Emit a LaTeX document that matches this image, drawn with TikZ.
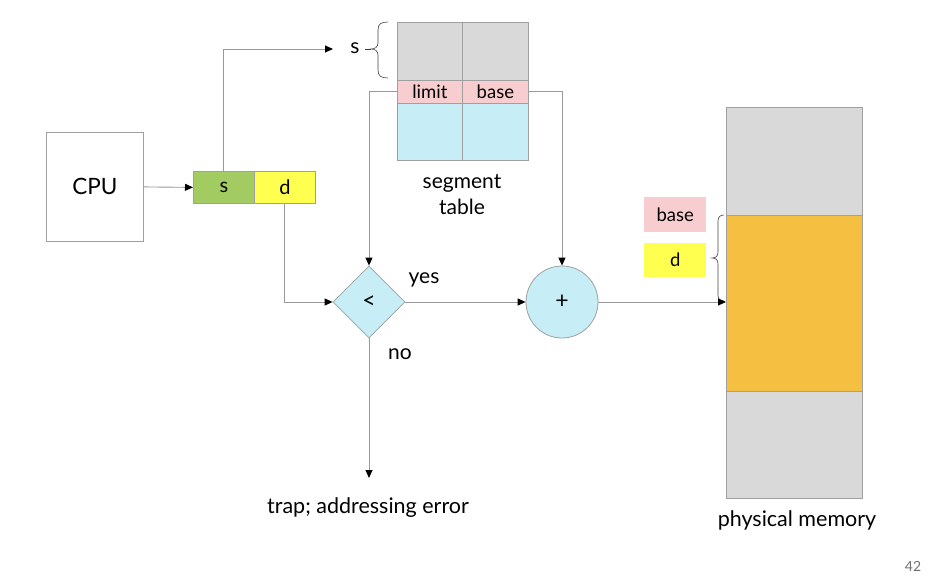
\documentclass[tikz,border=0pt]{standalone}
\usepackage{fontspec}
\setmainfont{Lato}
\usetikzlibrary{shapes.geometric,arrows.meta}
\definecolor{cgray}{HTML}{D9D9D9}
\definecolor{cpink}{HTML}{F8CDCF}
\definecolor{ccyan}{HTML}{C7EEF6}
\definecolor{cgreen}{HTML}{A2CC62}
\definecolor{cyel}{HTML}{FFFF4F}
\definecolor{corange}{HTML}{F5BF42}
\definecolor{cline}{HTML}{9A9A9A}
\definecolor{cedge}{HTML}{A0A0A0}
\begin{document}
\begin{tikzpicture}[x=1pt,y=-1pt,
  cell/.style={draw=cedge,line width=0.8pt,inner sep=0pt,anchor=north west},
  conn/.style={draw=cline,line width=0.9pt},
  arr/.style={conn,-{Triangle[length=8pt,width=7pt,color=black]}},
  lbl/.style={inner sep=0pt,font=\fontsize{21}{24}\selectfont},
  brc/.style={draw=black!75,line width=0.6pt}]
\useasboundingbox (0,0) rectangle (936,578);
% CPU
\node[cell,fill=white,minimum width=97pt,minimum height=109pt,font=\fontsize{22.5}{26}\selectfont] (cpu) at (46,132) {CPU};
% logical address
\node[cell,fill=cgreen,minimum width=61pt,minimum height=32pt,font=\fontsize{20}{22}\selectfont] (s) at (193,171) {s};
\node[cell,fill=cyel,minimum width=61pt,minimum height=32pt,font=\fontsize{20}{22}\selectfont] (d) at (254,171) {d};
% segment table
\node[cell,fill=cgray,minimum width=65pt,minimum height=58pt] (g1) at (397,22) {};
\node[cell,fill=cgray,minimum width=66pt,minimum height=58pt] (g2) at (462,22) {};
\node[cell,fill=cpink,minimum width=65pt,minimum height=23pt,font=\fontsize{18.5}{20}\selectfont] (limit) at (397,80) {limit};
\node[cell,fill=cpink,minimum width=66pt,minimum height=23pt,font=\fontsize{18.5}{20}\selectfont] (base) at (462,80) {base};
\node[cell,fill=ccyan,minimum width=65pt,minimum height=57pt] (c1) at (397,103) {};
\node[cell,fill=ccyan,minimum width=66pt,minimum height=57pt] (c2) at (462,103) {};
\node[lbl,align=center,font=\fontsize{21}{26}\selectfont] (segt) at (462,195) {segment\\table};
% s label and brace
\node[lbl] (slbl) at (355,48) {s};
\coordinate (sin) at (333,49);
\draw[brc] (388,22) .. controls (381,22) and (378,24) .. (378,30) -- (378,43)
  .. controls (378,47) and (375,49) .. (371,49)
  .. controls (375,49) and (378,51) .. (378,55) -- (378,70)
  .. controls (378,76) and (381,78) .. (388,78);
\draw[brc] (365,49) -- (371,49);
% comparator and adder
\node[diamond,draw=cedge,fill=ccyan,line width=0.8pt,minimum width=72pt,minimum height=72pt,inner sep=0pt,font=\fontsize{23}{26}\selectfont] (cmp) at (369,302) {<};
\node[circle,draw=cedge,fill=ccyan,line width=0.8pt,minimum size=72pt,inner sep=0pt,font=\fontsize{23}{26}\selectfont] (add) at (562,302) {+};
\node[lbl] (yes) at (424,280) {yes};
\node[lbl] (no) at (400,354) {no};
\coordinate (trapend) at (369,478);
\node[lbl,font=\fontsize{21.5}{24}\selectfont] (trap) at (368,508) {trap; addressing error};
% physical memory
\node[cell,fill=cgray,minimum width=136pt,minimum height=108pt] (m1) at (726,107) {};
\node[cell,fill=corange,minimum width=136pt,minimum height=176pt] (m2) at (726,215) {};
\node[cell,fill=cgray,minimum width=136pt,minimum height=107pt] (m3) at (726,391) {};
\node[lbl,font=\fontsize{21.5}{24}\selectfont] (pm) at (797,520) {physical memory};
\node[draw=none,fill=cpink,minimum width=62pt,minimum height=35pt,inner sep=0pt,anchor=north west,font=\fontsize{18.5}{20}\selectfont] (bbox) at (644,197) {base};
\node[draw=none,fill=cyel,minimum width=62pt,minimum height=34pt,inner sep=0pt,anchor=north west,font=\fontsize{18.5}{20}\selectfont] (dbox) at (644,243) {d};
\draw[brc] (724,215) .. controls (720,215) and (718,217) .. (718,221) -- (718,252)
  .. controls (718,256) and (716,258) .. (712,258)
  .. controls (716,258) and (718,260) .. (718,264) -- (718,295)
  .. controls (718,299) and (720,301) .. (724,301);
\node[lbl,text=black!55,font=\fontsize{14}{16}\selectfont] (pg) at (913,566) {42};
% connectors
\draw[arr] (cpu.east) -- (s.west);
\draw[arr] (s.north) |- (sin);
\draw[arr] (limit.west) -| (cmp.north);
\draw[arr] (base.east) -| (add.north);
\draw[arr] (d.south) |- (cmp.west);
\draw[arr] (cmp.east) -- (add.west);
\draw[arr] (add.east) -- (m2.west |- add.east);
\draw[arr] (cmp.south) -- (trapend);
\end{tikzpicture}
\end{document}
